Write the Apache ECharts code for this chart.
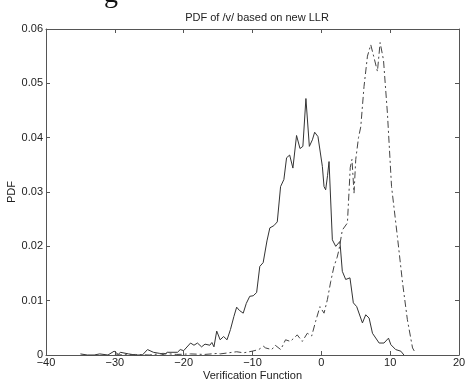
<!DOCTYPE html>
<html>
<head>
<meta charset="utf-8">
<script src="https://cdn.jsdelivr.net/npm/echarts@6/dist/echarts.min.js"></script>
<style>html,body{margin:0;padding:0;background:#fff;}#c{width:472px;height:383px;}</style>
</head>
<body>
<div id="c"></div>
<script>
const titleText = 'PDF of /v/ based on new LLR';
const xLabel = 'Verification Function';
const yLabel = 'PDF';

const solidX = [-35,-34,-33,-32.2,-31,-30.1,-29.5,-29.2,-28,-27,-26,-25.25,-24.4,-23.5,-22.8,-22.4,-20.9,-20.5,-20.0,-19.0,-18.5,-18.0,-17.4,-16.9,-16.2,-15.9,-15.6,-15.2,-14.7,-14.2,-13.7,-13.2,-12.7,-12.3,-11.9,-11.35,-10.9,-10.4,-9.9,-9.4,-8.94,-8.45,-7.9,-7.48,-6.9,-6.4,-5.92,-5.44,-5.05,-4.6,-4.13,-3.6,-3.1,-2.68,-2.24,-1.74,-1.3,-0.97,-0.49,0.15,0.39,0.63,0.9,1.12,1.6,2.09,2.7,3.05,3.54,4.16,4.65,5.14,5.97,6.45,6.94,7.43,8.4,9.1,9.76,10.1,10.8,11.55,12.0];
const solidY = [0.0002,0,0,0.0002,0,0.0007,0.0001,0.0005,0.0002,0,0,0.001,0.0005,0.0003,0,0.0005,0.0005,0.001,0.0008,0.0022,0.0018,0.0022,0.0015,0.002,0.0018,0.0023,0.0015,0.0044,0.0028,0.0034,0.0028,0.0047,0.0071,0.0088,0.0082,0.0077,0.0095,0.0108,0.0109,0.0115,0.0163,0.017,0.021,0.0234,0.0238,0.0245,0.031,0.0323,0.0363,0.0368,0.0344,0.0404,0.038,0.0384,0.0472,0.0384,0.0396,0.041,0.0402,0.0347,0.031,0.0304,0.033,0.0356,0.0212,0.02,0.0209,0.0154,0.0139,0.0142,0.0096,0.0089,0.0059,0.0074,0.0068,0.004,0.0022,0.0022,0.0031,0.0019,0.001,0.0007,0];

const dashX = [-30,-27,-25,-23,-21,-19,-17,-15,-14.7,-13.5,-12.3,-11.3,-10.05,-9.9,-9.1,-8.4,-8.1,-7.2,-6.7,-5.9,-5.2,-4.5,-3.5,-2.77,-2.04,-1.4,-0.83,-0.2,0.39,0.88,1.36,1.84,2.3,2.57,3.05,3.79,4.2,4.45,4.75,5.0,5.4,5.73,6.2,6.7,7.18,7.6,8.15,8.54,9.03,9.6,10.2,11.05,11.8,12.5,13.25,13.7];
const dashY = [0,0.0001,0,0.0003,0.0001,0.0002,0.0001,0.0003,0.0002,0.0004,0.0006,0.0004,0.0007,0.0007,0.001,0.0016,0.0013,0.001,0.0018,0.001,0.0028,0.0025,0.0037,0.0025,0.004,0.0035,0.0062,0.0089,0.0077,0.0102,0.0135,0.0163,0.018,0.0194,0.023,0.0243,0.0345,0.036,0.0298,0.036,0.04,0.042,0.0494,0.055,0.0571,0.055,0.0522,0.0575,0.0543,0.0445,0.031,0.0218,0.0133,0.0065,0.0013,0.0003];

const xTicks = [-40,-30,-20,-10,0,10,20];
const yTicks = [0,0.01,0.02,0.03,0.04,0.05,0.06];

const pairs = (xs, ys) => xs.map((x, i) => [x, ys[i]]);
const font = 'Liberation Sans';
const axisCol = '#555';
const txtCol = '#222';

const chart = echarts.init(document.getElementById('c'));
chart.setOption({
  animation: false,
  backgroundColor: '#fff',
  title: {
    text: titleText, left: 252, top: 7, textAlign: 'center',
    textStyle: {fontFamily: font, fontSize: 11, fontWeight: 'normal', color: txtCol}
  },
  graphic: [{
    type: 'text', left: 104, top: -19,
    style: {text: 'g', font: '28px "Liberation Serif"', fill: '#111'}
  }],
  grid: {left: 46, right: 13, top: 29, bottom: 28, containLabel: false, outerBoundsMode: 'none'},
  xAxis: [{
    type: 'value', min: -40, max: 20, interval: 10,
    name: xLabel, nameLocation: 'middle', nameGap: 15, nameMoveOverlap: false,
    nameTextStyle: {fontFamily: font, fontSize: 11, color: txtCol, verticalAlign: 'top'},
    axisLine: {onZero: false, lineStyle: {color: axisCol, width: 1}},
    axisTick: {inside: true, length: 4, lineStyle: {color: axisCol}},
    axisLabel: {fontFamily: font, fontSize: 11, color: txtCol, margin: 2,
      formatter: v => xTicks.includes(v) ? String(v).replace('-', '\u2212') : ''},
    splitLine: {show: false}
  }, {
    type: 'value', position: 'top', min: -40, max: 20, interval: 10,
    axisLine: {show: true, onZero: false, lineStyle: {color: axisCol, width: 1}},
    axisTick: {show: true, inside: true, length: 4, lineStyle: {color: axisCol}},
    axisLabel: {show: false}, splitLine: {show: false}
  }],
  yAxis: [{
    type: 'value', min: 0, max: 0.06, interval: 0.01,
    name: yLabel, nameLocation: 'middle', nameGap: 29, nameRotate: 90, nameMoveOverlap: false,
    nameTextStyle: {fontFamily: font, fontSize: 11, color: txtCol},
    axisLine: {show: true, onZero: false, lineStyle: {color: axisCol, width: 1}},
    axisTick: {show: true, inside: true, length: 4, lineStyle: {color: axisCol}},
    axisLabel: {fontFamily: font, fontSize: 11, color: txtCol, margin: 3,
      formatter: v => yTicks.some(t => Math.abs(t - v) < 1e-9) ? (v === 0 ? '0' : v.toFixed(2)) : ''},
    splitLine: {show: false}
  }, {
    type: 'value', position: 'right', min: 0, max: 0.06, interval: 0.01,
    axisLine: {show: true, onZero: false, lineStyle: {color: axisCol, width: 1}},
    axisTick: {show: true, inside: true, length: 4, lineStyle: {color: axisCol}},
    axisLabel: {show: false}, splitLine: {show: false}
  }],
  series: [{
    type: 'line', data: pairs(solidX, solidY), showSymbol: false,
    lineStyle: {color: '#333', width: 1}
  }, {
    type: 'line', data: pairs(dashX, dashY), showSymbol: false,
    lineStyle: {color: '#444', width: 1, type: [7, 3, 2, 3]}
  }]
});
</script>
</body>
</html>
